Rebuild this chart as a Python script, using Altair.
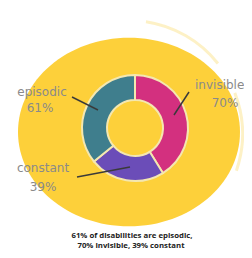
import altair as alt
import pandas as pd

# Donut data
categories = ["invisible", "constant", "episodic"]
values = [70, 39, 61]
colors = ["#D3307F", "#6B4DB8", "#3F7E8D"]

# Labels
label_text = ["episodic", "61%", "invisible", "70%", "constant", "39%"]
label_x = [34, 32, 187, 217, 35, 35]
label_y = [84, 100, 77, 95, 160, 179]
label_align = ["center", "center", "left", "center", "center", "center"]

# Leader lines
line_x = [64, 181, 69]
line_y = [89, 84, 169]
line_x2 = [90, 166, 122]
line_y2 = [102, 107, 159]

caption = ["61% of disabilities are episodic,", "70% invisible, 39% constant"]
caption_x = [124, 123]
caption_y = [228, 238]

W, H = 236, 242
xs = alt.Scale(domain=[0, W])
ys = alt.Scale(domain=[0, H], reverse=True)

bg = pd.DataFrame({"x": [121], "y": [124]})
ellipse = alt.Chart(bg).mark_point(
    shape="M -1 0 A 1 0.85 0 1 1 1 0 A 1 0.85 0 1 1 -1 0 Z",
    size=222 * 222, filled=True, color="#FDD03A", opacity=1, strokeWidth=0
).encode(x=alt.X("x:Q", scale=xs, axis=None), y=alt.Y("y:Q", scale=ys, axis=None))

streak_df = pd.DataFrame({"s": [0.15, 1.2], "e": [0.9, 1.9]})
streaks = alt.Chart(streak_df).mark_arc(
    innerRadius=112, outerRadius=115, color="#FCE7A0", opacity=0.6
).encode(
    theta=alt.Theta("s:Q", scale=None), theta2="e:Q",
    x=alt.value(121), y=alt.value(126),
)

donut_df = pd.DataFrame({"cat": categories, "val": values, "ord": [0, 1, 2]})
donut = alt.Chart(donut_df).mark_arc(
    outerRadius=53, innerRadius=28, stroke="#F4E7B0", strokeWidth=2
).encode(
    theta=alt.Theta("val:Q", stack=True),
    order=alt.Order("ord:Q"),
    color=alt.Color("cat:N", scale=alt.Scale(domain=categories, range=colors), legend=None),
    x=alt.value(127), y=alt.value(120),
)

lab_df = pd.DataFrame({"t": label_text, "x": label_x, "y": label_y, "a": label_align})
lab_enc = dict(x=alt.X("x:Q", scale=xs, axis=None), y=alt.Y("y:Q", scale=ys, axis=None), text="t:N")
labels_c = alt.Chart(lab_df).transform_filter("datum.a == 'center'").mark_text(
    font="DejaVu Sans", fontSize=12, color="#8A8A8A", align="center", baseline="middle"
).encode(**lab_enc)
labels_l = alt.Chart(lab_df).transform_filter("datum.a == 'left'").mark_text(
    font="DejaVu Sans", fontSize=12, color="#8A8A8A", align="left", baseline="middle"
).encode(**lab_enc)

ln_df = pd.DataFrame({"x": line_x, "y": line_y, "x2": line_x2, "y2": line_y2})
lines = alt.Chart(ln_df).mark_rule(color="#3a3a3a", strokeWidth=1.5).encode(
    x=alt.X("x:Q", scale=xs, axis=None), y=alt.Y("y:Q", scale=ys, axis=None), x2="x2:Q", y2="y2:Q"
)

cap_df = pd.DataFrame({"t": caption, "x": caption_x, "y": caption_y})
cap = alt.Chart(cap_df).mark_text(
    font="Open Sans", fontSize=7.8, fontWeight="bold", color="#222222", align="center", baseline="middle"
).encode(x=alt.X("x:Q", scale=xs, axis=None), y=alt.Y("y:Q", scale=ys, axis=None), text="t:N")

chart = alt.layer(streaks, ellipse, donut, lines, labels_c, labels_l, cap).properties(
    width=W, height=H, padding=0, background="white",
    autosize=alt.AutoSizeParams(type="none")
).configure_view(stroke=None)

chart.save("out.html", embed_options={"renderer": "svg", "actions": False})
